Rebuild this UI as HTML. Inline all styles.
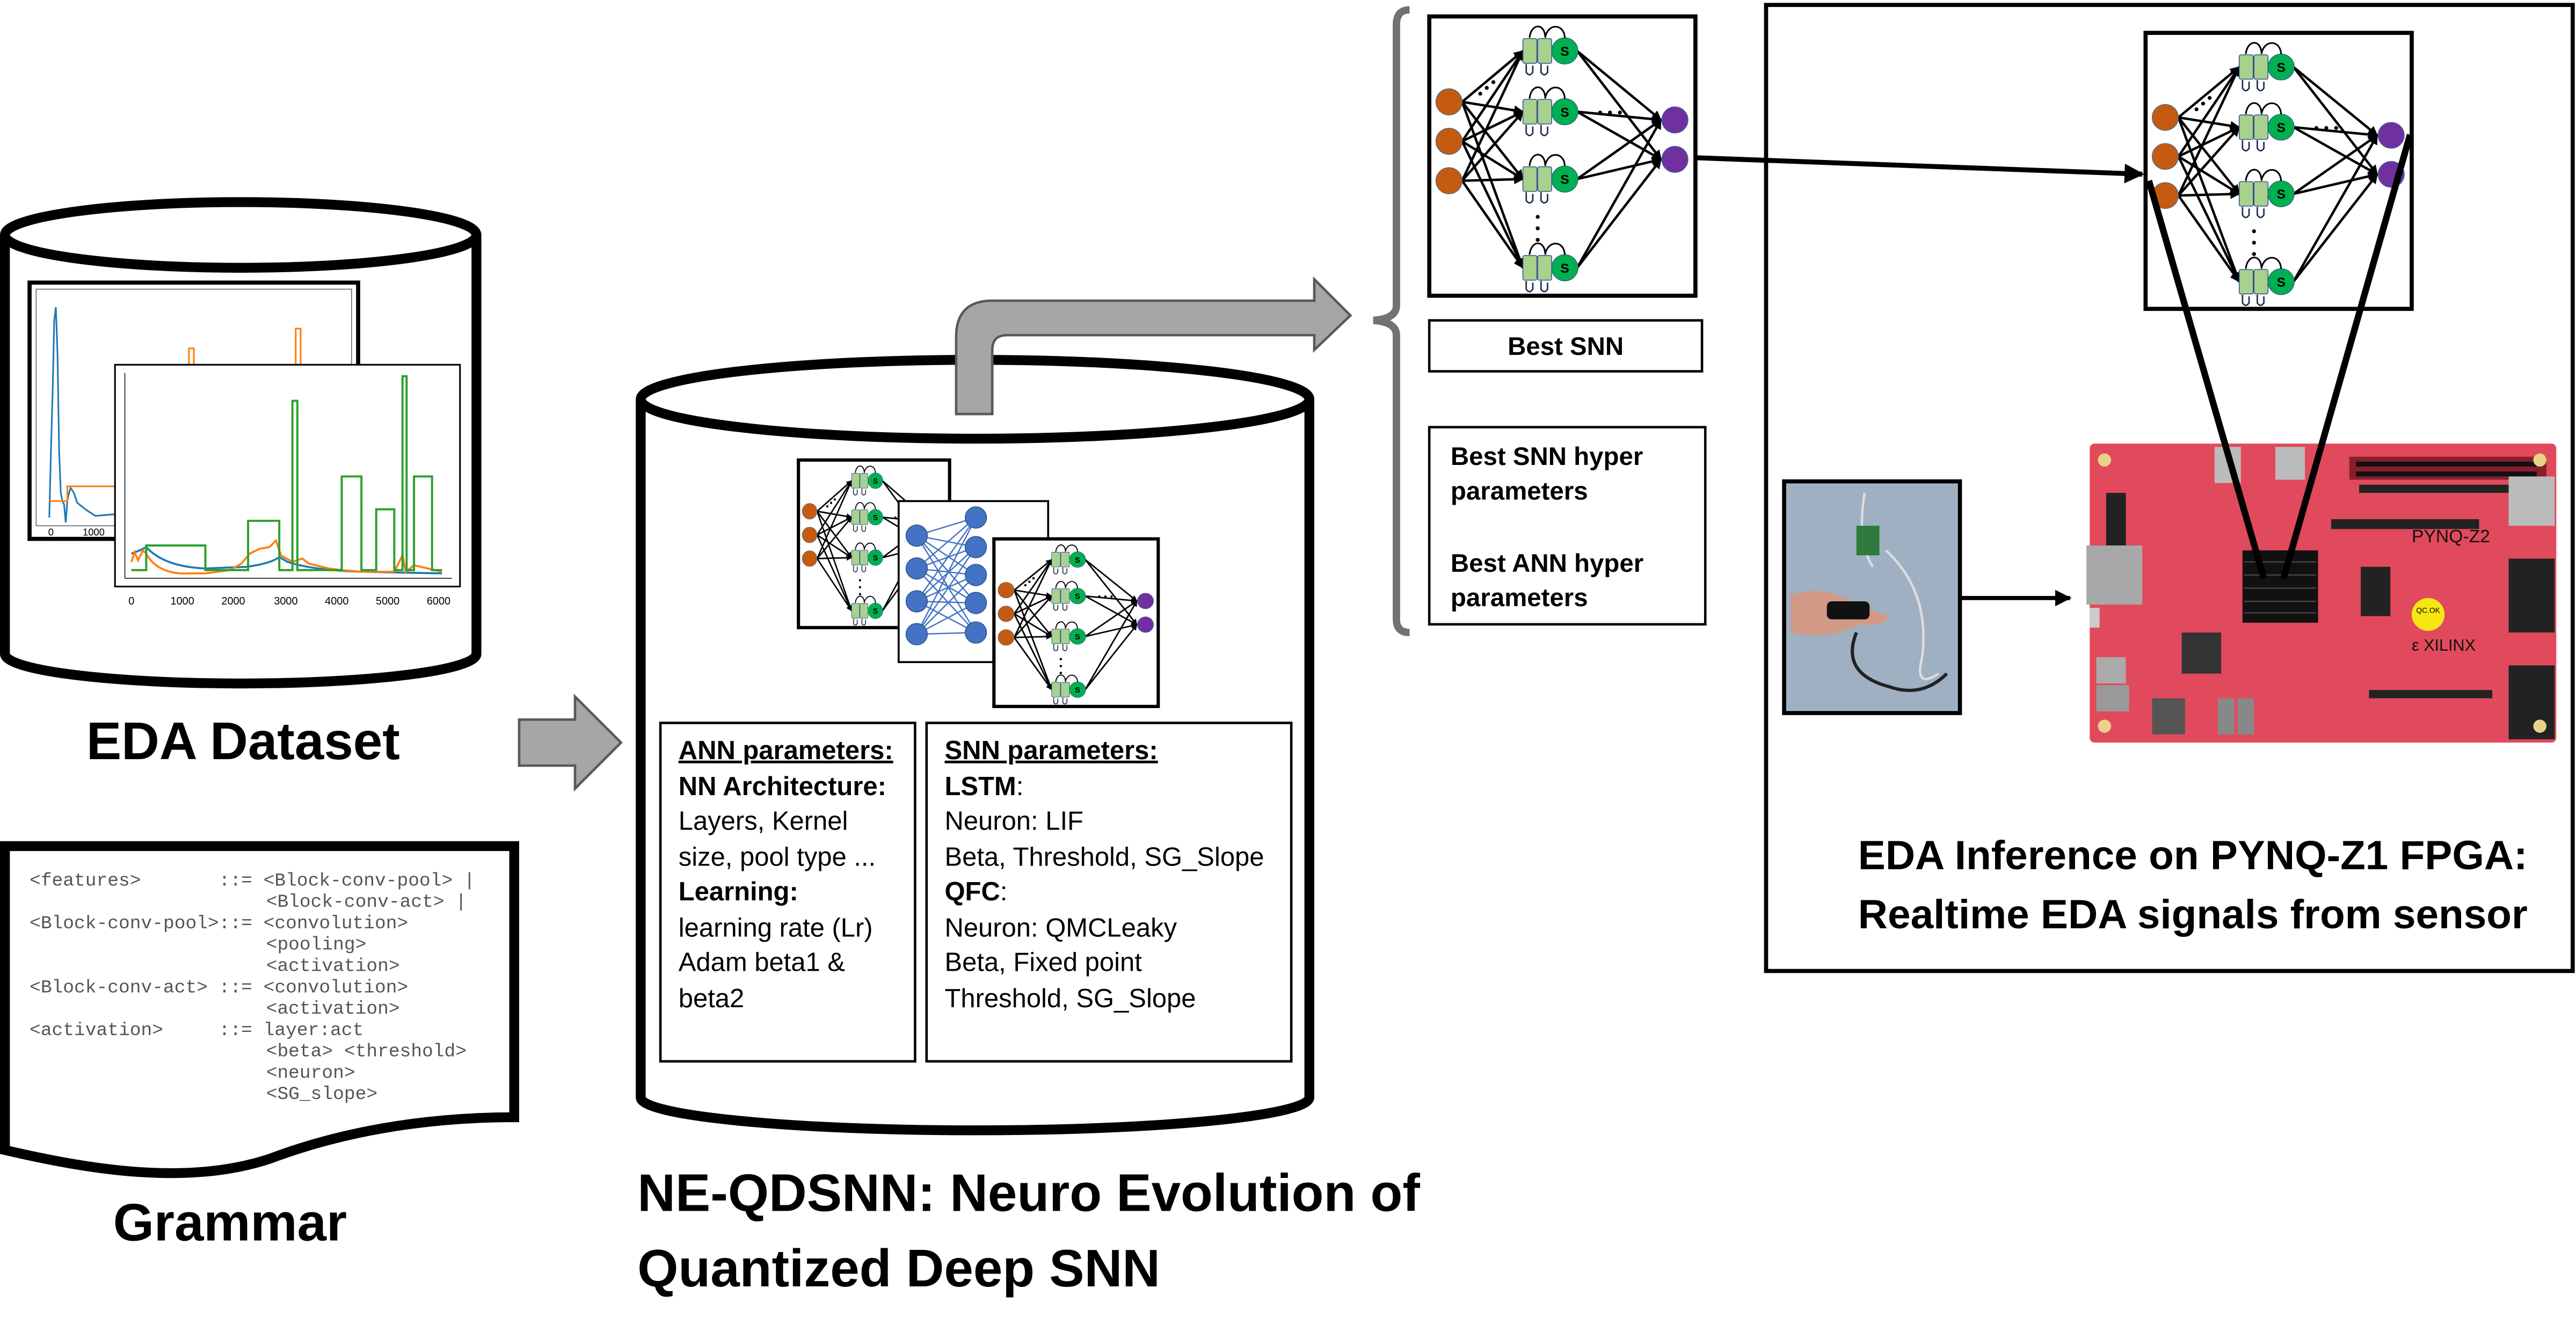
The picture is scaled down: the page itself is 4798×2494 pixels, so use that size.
<!DOCTYPE html>
<html><head><meta charset="utf-8"><style>
html,body{margin:0;padding:0;background:#fff;}
svg{display:block;}
text{font-family:"Liberation Sans",sans-serif;}
.mono text{font-family:"Liberation Mono",monospace;font-size:11.3px;fill:#555;white-space:pre;}
.p text{font-size:16px;fill:#000;}
.b{font-weight:bold;}
</style></head><body>
<svg width="4798" height="2494" viewBox="0 0 1568 815" preserveAspectRatio="none" xmlns="http://www.w3.org/2000/svg">
<defs>
<marker id="ah" viewBox="0 0 10 10" refX="9" refY="5" markerWidth="4" markerHeight="4" orient="auto"><path d="M0,0 L10,5 L0,10 z" fill="#000"/></marker>
<marker id="ah2" viewBox="0 0 10 10" refX="9" refY="5" markerWidth="4" markerHeight="4" orient="auto"><path d="M0,0 L10,5 L0,10 z" fill="#000"/></marker>
<g id="net">
 <g stroke="#000" stroke-width="1.5" fill="none" marker-end="url(#ah)">
  <line x1="20" y1="52" x2="57" y2="21"/><line x1="20" y1="52" x2="57" y2="58"/><line x1="20" y1="52" x2="57" y2="99"/><line x1="20" y1="52" x2="57" y2="153"/>
  <line x1="20" y1="76" x2="57" y2="21"/><line x1="20" y1="76" x2="57" y2="58"/><line x1="20" y1="76" x2="57" y2="99"/><line x1="20" y1="76" x2="57" y2="153"/>
  <line x1="20" y1="100" x2="57" y2="21"/><line x1="20" y1="100" x2="57" y2="58"/><line x1="20" y1="100" x2="57" y2="99"/><line x1="20" y1="100" x2="57" y2="153"/>
  <line x1="90" y1="21" x2="141" y2="63"/><line x1="90" y1="21" x2="141" y2="87"/>
  <line x1="90" y1="58" x2="141" y2="63"/><line x1="90" y1="58" x2="141" y2="87"/>
  <line x1="90" y1="99" x2="141" y2="63"/><line x1="90" y1="99" x2="141" y2="87"/>
  <line x1="90" y1="153" x2="141" y2="63"/><line x1="90" y1="153" x2="141" y2="87"/>
 </g>
 <g fill="#c55a11" stroke="#41719c" stroke-width="0.4"><circle cx="12" cy="52" r="8"/><circle cx="12" cy="76" r="8"/><circle cx="12" cy="100" r="8"/></g>
 <g fill="#7030a0" stroke="#41719c" stroke-width="0.4"><circle cx="149.5" cy="63" r="8"/><circle cx="149.5" cy="87" r="8"/></g>
 <g id="cell">
  <rect x="57" y="13.5" width="8.5" height="15" rx="1" fill="#a9d18e" stroke="#2f528f" stroke-width="0.5"/>
  <rect x="66" y="13.5" width="8.5" height="15" rx="1" fill="#a9d18e" stroke="#2f528f" stroke-width="0.5"/>
  <circle cx="82.5" cy="21" r="8" fill="#00b050" stroke="#2f528f" stroke-width="0.4"/>
  <text x="82.5" y="24" font-size="8" font-weight="bold" text-anchor="middle">S</text>
  <path d="M82.5,13 C82,4 72,4 70.5,13 M70.5,12 C70,4 62,4 61,13" fill="none" stroke="#000" stroke-width="1"/>
  <path d="M59,29 V34 Q61,37 63,34 V30 M68,29 V34 Q70,37 72,34 V30" fill="none" stroke="#1f2f4f" stroke-width="0.9"/>
 </g>
 <use href="#cell" transform="translate(0,37)"/>
 <use href="#cell" transform="translate(0,78)"/>
 <use href="#cell" transform="translate(0,132)"/>
 <g fill="#000"><circle cx="31" cy="47" r="1.2"/><circle cx="35" cy="43.5" r="1.2"/><circle cx="39" cy="40" r="1.2"/>
 <circle cx="104" cy="58.5" r="1.2"/><circle cx="110" cy="58.5" r="1.2"/><circle cx="116" cy="58.5" r="1.2"/>
 <circle cx="66" cy="122" r="1.2"/><circle cx="66" cy="129" r="1.2"/><circle cx="66" cy="136" r="1.2"/></g>
</g>
</defs>

<!-- Left cylinder -->
<path d="M3,143 V398 A143.5,18 0 0 0 290,398 V143" fill="#fff" stroke="#000" stroke-width="6"/>
<ellipse cx="146.5" cy="143" rx="143.5" ry="20" fill="#fff" stroke="#000" stroke-width="6"/>
<rect x="18" y="172" width="200" height="156" fill="#fff" stroke="#000" stroke-width="2.5"/>
<rect x="22" y="176" width="192" height="144" fill="#fff" stroke="#777" stroke-width="0.6"/>
<path d="M30,315 L31,275 L32,240 L33,195 L34,187 L35,215 L36,275 L37,300 L38,305 L39,307 L40,318 L41,305 L42,300 L43,297 L45,300 L47,306 L52,310 L58,314 L70,313" fill="none" stroke="#1f77b4" stroke-width="1"/>
<path d="M30,305 H41 V296 H70 M115,222 V212 H118 V222 M180,222 V200 H183 V222" fill="none" stroke="#ff7f0e" stroke-width="1"/>
<text x="31" y="326" font-size="6" text-anchor="middle">0</text><text x="57" y="326" font-size="6" text-anchor="middle">1000</text>
<rect x="70" y="222" width="210" height="135" fill="#fff" stroke="#000" stroke-width="1"/>
<line x1="76" y1="227" x2="76" y2="352" stroke="#333" stroke-width="0.6"/><line x1="76" y1="352" x2="275" y2="352" stroke="#333" stroke-width="0.6"/>
<path d="M80,337 L85,335 L89,333 Q100,345 125,346 L150,345 Q165,343 170,339 L175,342 Q190,347 220,348 L269,349" fill="none" stroke="#1f77b4" stroke-width="1.2"/>
<path d="M80,342 L82,336 L84,341 L87,335 L89,337 Q95,348 110,349 L125,349 L140,347 L147,343 L152,337 L158,334 L164,333 L168,329 L171,338 L178,342 L184,340 L188,343 L200,346 L208,347 L220,348 L240,348 L245,338 L247,348 L252,344 L269,348" fill="none" stroke="#ff7f0e" stroke-width="1.2"/>
<path d="M80,347 H89 V332 H125 V347 H151 V317 H170 V347 H178 V244 H181 V347 H208 V290 H220 V347 H229 V310 H240 V347 H245 V229 H247.5 V347 H252 V290 H263 V347 H269" fill="none" stroke="#2ca02c" stroke-width="1.3"/>
<g font-size="6.5" text-anchor="middle"><text x="80" y="368">0</text><text x="111" y="368">1000</text><text x="142" y="368">2000</text><text x="174" y="368">3000</text><text x="205" y="368">4000</text><text x="236" y="368">5000</text><text x="267" y="368">6000</text></g>
<text x="148" y="462" font-size="32" class="b" text-anchor="middle">EDA Dataset</text>

<!-- Grammar doc -->
<path d="M3,515 H313 V680 C255,680 205,690 165,705 C115,722 55,712 3,700 Z" fill="#fff" stroke="#000" stroke-width="6"/>
<g class="mono">
<text x="18" y="539" xml:space="preserve">&lt;features&gt;       ::= &lt;Block-conv-pool&gt; |</text>
<text x="162" y="552">&lt;Block-conv-act&gt; |</text>
<text x="18" y="565" xml:space="preserve">&lt;Block-conv-pool&gt;::= &lt;convolution&gt;</text>
<text x="162" y="578">&lt;pooling&gt;</text>
<text x="162" y="591">&lt;activation&gt;</text>
<text x="18" y="604" xml:space="preserve">&lt;Block-conv-act&gt; ::= &lt;convolution&gt;</text>
<text x="162" y="617">&lt;activation&gt;</text>
<text x="18" y="630" xml:space="preserve">&lt;activation&gt;     ::= layer:act</text>
<text x="162" y="643" xml:space="preserve">&lt;beta&gt; &lt;threshold&gt;</text>
<text x="162" y="656">&lt;neuron&gt;</text>
<text x="162" y="669">&lt;SG_slope&gt;</text>
</g>
<text x="140" y="755" font-size="32" class="b" text-anchor="middle">Grammar</text>

<path d="M316,438 H350 V424 L378,452 L350,480 V466 H316 Z" fill="#a6a6a6" stroke="#595959" stroke-width="1.5"/>

<!-- Middle cylinder -->
<path d="M390,243 V668 A203.5,20 0 0 0 797,668 V243" fill="#fff" stroke="#000" stroke-width="6"/>
<ellipse cx="593.5" cy="243" rx="203.5" ry="24" fill="#fff" stroke="#000" stroke-width="6"/>
<path d="M582,252 V205 Q582,183 604,183 H800 V170 L822,192 L800,213 V204 H613 Q604,204 604,213 V252 Z" fill="#a6a6a6" stroke="#595959" stroke-width="1.5"/>

<rect x="486" y="280" width="92" height="102" fill="#fff" stroke="#000" stroke-width="2"/>
<use href="#net" transform="translate(486,280) scale(0.568,0.6)"/>
<rect x="547" y="305" width="91" height="98" fill="#fff" stroke="#000" stroke-width="1.2"/>
<g stroke="#4472c4" stroke-width="0.8">
 <line x1="558" y1="326" x2="594" y2="315"/><line x1="558" y1="326" x2="594" y2="333"/><line x1="558" y1="326" x2="594" y2="350"/><line x1="558" y1="326" x2="594" y2="367"/><line x1="558" y1="326" x2="594" y2="385"/>
 <line x1="558" y1="346" x2="594" y2="315"/><line x1="558" y1="346" x2="594" y2="333"/><line x1="558" y1="346" x2="594" y2="350"/><line x1="558" y1="346" x2="594" y2="367"/><line x1="558" y1="346" x2="594" y2="385"/>
 <line x1="558" y1="366" x2="594" y2="315"/><line x1="558" y1="366" x2="594" y2="333"/><line x1="558" y1="366" x2="594" y2="350"/><line x1="558" y1="366" x2="594" y2="367"/><line x1="558" y1="366" x2="594" y2="385"/>
 <line x1="558" y1="386" x2="594" y2="315"/><line x1="558" y1="386" x2="594" y2="333"/><line x1="558" y1="386" x2="594" y2="350"/><line x1="558" y1="386" x2="594" y2="367"/><line x1="558" y1="386" x2="594" y2="385"/>
</g>
<g fill="#4472c4" stroke="#2f528f" stroke-width="0.5">
 <circle cx="558" cy="326" r="6.5"/><circle cx="558" cy="346" r="6.5"/><circle cx="558" cy="366" r="6.5"/><circle cx="558" cy="386" r="6.5"/>
 <circle cx="594" cy="315" r="6.5"/><circle cx="594" cy="333" r="6.5"/><circle cx="594" cy="350" r="6.5"/><circle cx="594" cy="367" r="6.5"/><circle cx="594" cy="385" r="6.5"/>
</g>
<rect x="605" y="328" width="100" height="102" fill="#fff" stroke="#000" stroke-width="2"/>
<use href="#net" transform="translate(605,328) scale(0.617,0.6)"/>

<rect x="402" y="440" width="155" height="206" fill="#fff" stroke="#000" stroke-width="1.5"/>
<rect x="564" y="440" width="222" height="206" fill="#fff" stroke="#000" stroke-width="1.5"/>
<g class="p">
<text x="413" y="462" class="b" text-decoration="underline">ANN parameters:</text>
<text x="413" y="484" class="b">NN Architecture:</text>
<text x="413" y="505">Layers, Kernel</text>
<text x="413" y="527">size, pool type ...</text>
<text x="413" y="548" class="b">Learning:</text>
<text x="413" y="570">learning rate (Lr)</text>
<text x="413" y="591">Adam beta1 &amp;</text>
<text x="413" y="613">beta2</text>
<text x="575" y="462" class="b" text-decoration="underline">SNN parameters:</text>
<text x="575" y="484"><tspan class="b">LSTM</tspan>:</text>
<text x="575" y="505">Neuron: LIF</text>
<text x="575" y="527">Beta, Threshold, SG_Slope</text>
<text x="575" y="548"><tspan class="b">QFC</tspan>:</text>
<text x="575" y="570">Neuron: QMCLeaky</text>
<text x="575" y="591">Beta, Fixed point</text>
<text x="575" y="613">Threshold, SG_Slope</text>
</g>
<text x="388" y="737" font-size="32" class="b">NE-QDSNN: Neuro Evolution of</text>
<text x="388" y="783" font-size="32" class="b">Quantized Deep SNN</text>

<path d="M858,6 Q850,6 850,15 V186 Q850,194 836,195 Q850,196 850,204 V377 Q850,385 858,385" fill="none" stroke="#767171" stroke-width="4.5"/>

<rect x="870" y="10" width="162" height="170" fill="#fff" stroke="#000" stroke-width="2.5"/>
<use href="#net" transform="translate(870,10)"/>
<rect x="870" y="195" width="166" height="31" fill="#fff" stroke="#000" stroke-width="1.5"/>
<text x="953" y="216" font-size="15.5" class="b" text-anchor="middle">Best SNN</text>
<rect x="870" y="260" width="168" height="120" fill="#fff" stroke="#000" stroke-width="1.5"/>
<g font-size="15.5" class="b"><text x="883" y="283">Best SNN hyper</text><text x="883" y="304">parameters</text><text x="883" y="348">Best ANN hyper</text><text x="883" y="369">parameters</text></g>

<rect x="1075" y="3" width="491" height="588" fill="#fff" stroke="#000" stroke-width="2.5"/>
<line x1="1032" y1="96" x2="1304" y2="106" stroke="#000" stroke-width="3" marker-end="url(#ah2)"/>

<g>
<rect x="1272" y="270" width="284" height="182" fill="#e14a5c" rx="3"/>
<rect x="1282" y="300" width="12" height="40" fill="#222"/>
<rect x="1270" y="332" width="34" height="36" fill="#a8a8a8"/>
<rect x="1272" y="370" width="6" height="12" fill="#ccc"/>
<rect x="1276" y="400" width="18" height="16" fill="#aaa"/><rect x="1276" y="417" width="20" height="16" fill="#999"/>
<rect x="1348" y="272" width="16" height="22" fill="#bbb"/><rect x="1385" y="272" width="18" height="20" fill="#bbb"/>
<rect x="1430" y="278" width="120" height="14" fill="#8a1e2c"/>
<g fill="#111"><rect x="1434" y="281" width="110" height="3"/><rect x="1434" y="287" width="110" height="3"/></g>
<rect x="1436" y="295" width="100" height="5" fill="#222"/>
<rect x="1419" y="316" width="90" height="6" fill="#222"/>
<rect x="1527" y="290" width="28" height="30" fill="#bbb"/>
<rect x="1365" y="335" width="46" height="44" fill="#111"/>
<g stroke="#444" stroke-width="0.8"><line x1="1366" y1="342" x2="1410" y2="342"/><line x1="1366" y1="350" x2="1410" y2="350"/><line x1="1366" y1="358" x2="1410" y2="358"/><line x1="1366" y1="366" x2="1410" y2="366"/><line x1="1366" y1="373" x2="1410" y2="373"/></g>
<rect x="1437" y="345" width="18" height="30" fill="#222"/>
<rect x="1328" y="385" width="24" height="25" fill="#333"/>
<circle cx="1478" cy="374" r="10" fill="#f5e614"/>
<text x="1478" y="373" font-size="4.5" text-anchor="middle">QC.OK</text>
<text x="1468" y="330" font-size="11" fill="#111">PYNQ-Z2</text>
<text x="1468" y="396" font-size="10" fill="#111">ε XILINX</text>
<rect x="1527" y="340" width="28" height="45" fill="#222"/><rect x="1527" y="405" width="28" height="45" fill="#222"/>
<rect x="1442" y="420" width="75" height="5" fill="#222"/>
<rect x="1350" y="425" width="10" height="22" fill="#888"/><rect x="1362" y="425" width="10" height="22" fill="#888"/>
<rect x="1310" y="425" width="20" height="22" fill="#555"/>
<circle cx="1281" cy="280" r="4" fill="#e8d38a"/><circle cx="1546" cy="280" r="4" fill="#e8d38a"/><circle cx="1281" cy="442" r="4" fill="#e8d38a"/><circle cx="1546" cy="442" r="4" fill="#e8d38a"/>
</g>

<rect x="1306" y="20" width="162" height="168" fill="#fff" stroke="#000" stroke-width="2.5"/>
<use href="#net" transform="translate(1306,20) scale(1,0.99)"/>
<line x1="1308" y1="110" x2="1378" y2="352" stroke="#000" stroke-width="4"/>
<line x1="1467" y1="82" x2="1390" y2="352" stroke="#000" stroke-width="4"/>

<rect x="1086" y="293" width="107" height="141" fill="#a9b8c8" stroke="#000" stroke-width="2.5"/>
<rect x="1088" y="295" width="103" height="137" fill="#9fb0c2"/>
<path d="M1135,300 Q1130,330 1140,345 M1148,335 Q1175,360 1170,400 Q1165,420 1180,410" fill="none" stroke="#ddd" stroke-width="1.5"/>
<rect x="1130" y="320" width="14" height="18" fill="#2f7a3c"/>
<path d="M1090,362 Q1110,355 1130,368 L1150,375 Q1146,382 1132,380 L1120,385 Q1105,388 1090,385 Z" fill="#d29a86"/>
<rect x="1112" y="366" width="26" height="11" rx="3" fill="#111"/>
<path d="M1130,385 Q1120,410 1150,418 Q1170,425 1185,410" fill="none" stroke="#222" stroke-width="2"/>
<line x1="1193" y1="364" x2="1260" y2="364" stroke="#000" stroke-width="2.5" marker-end="url(#ah2)"/>

<text x="1131" y="529" font-size="25" class="b">EDA Inference on PYNQ-Z1 FPGA:</text>
<text x="1131" y="565" font-size="25" class="b">Realtime EDA signals from sensor</text>
</svg>
</body></html>
